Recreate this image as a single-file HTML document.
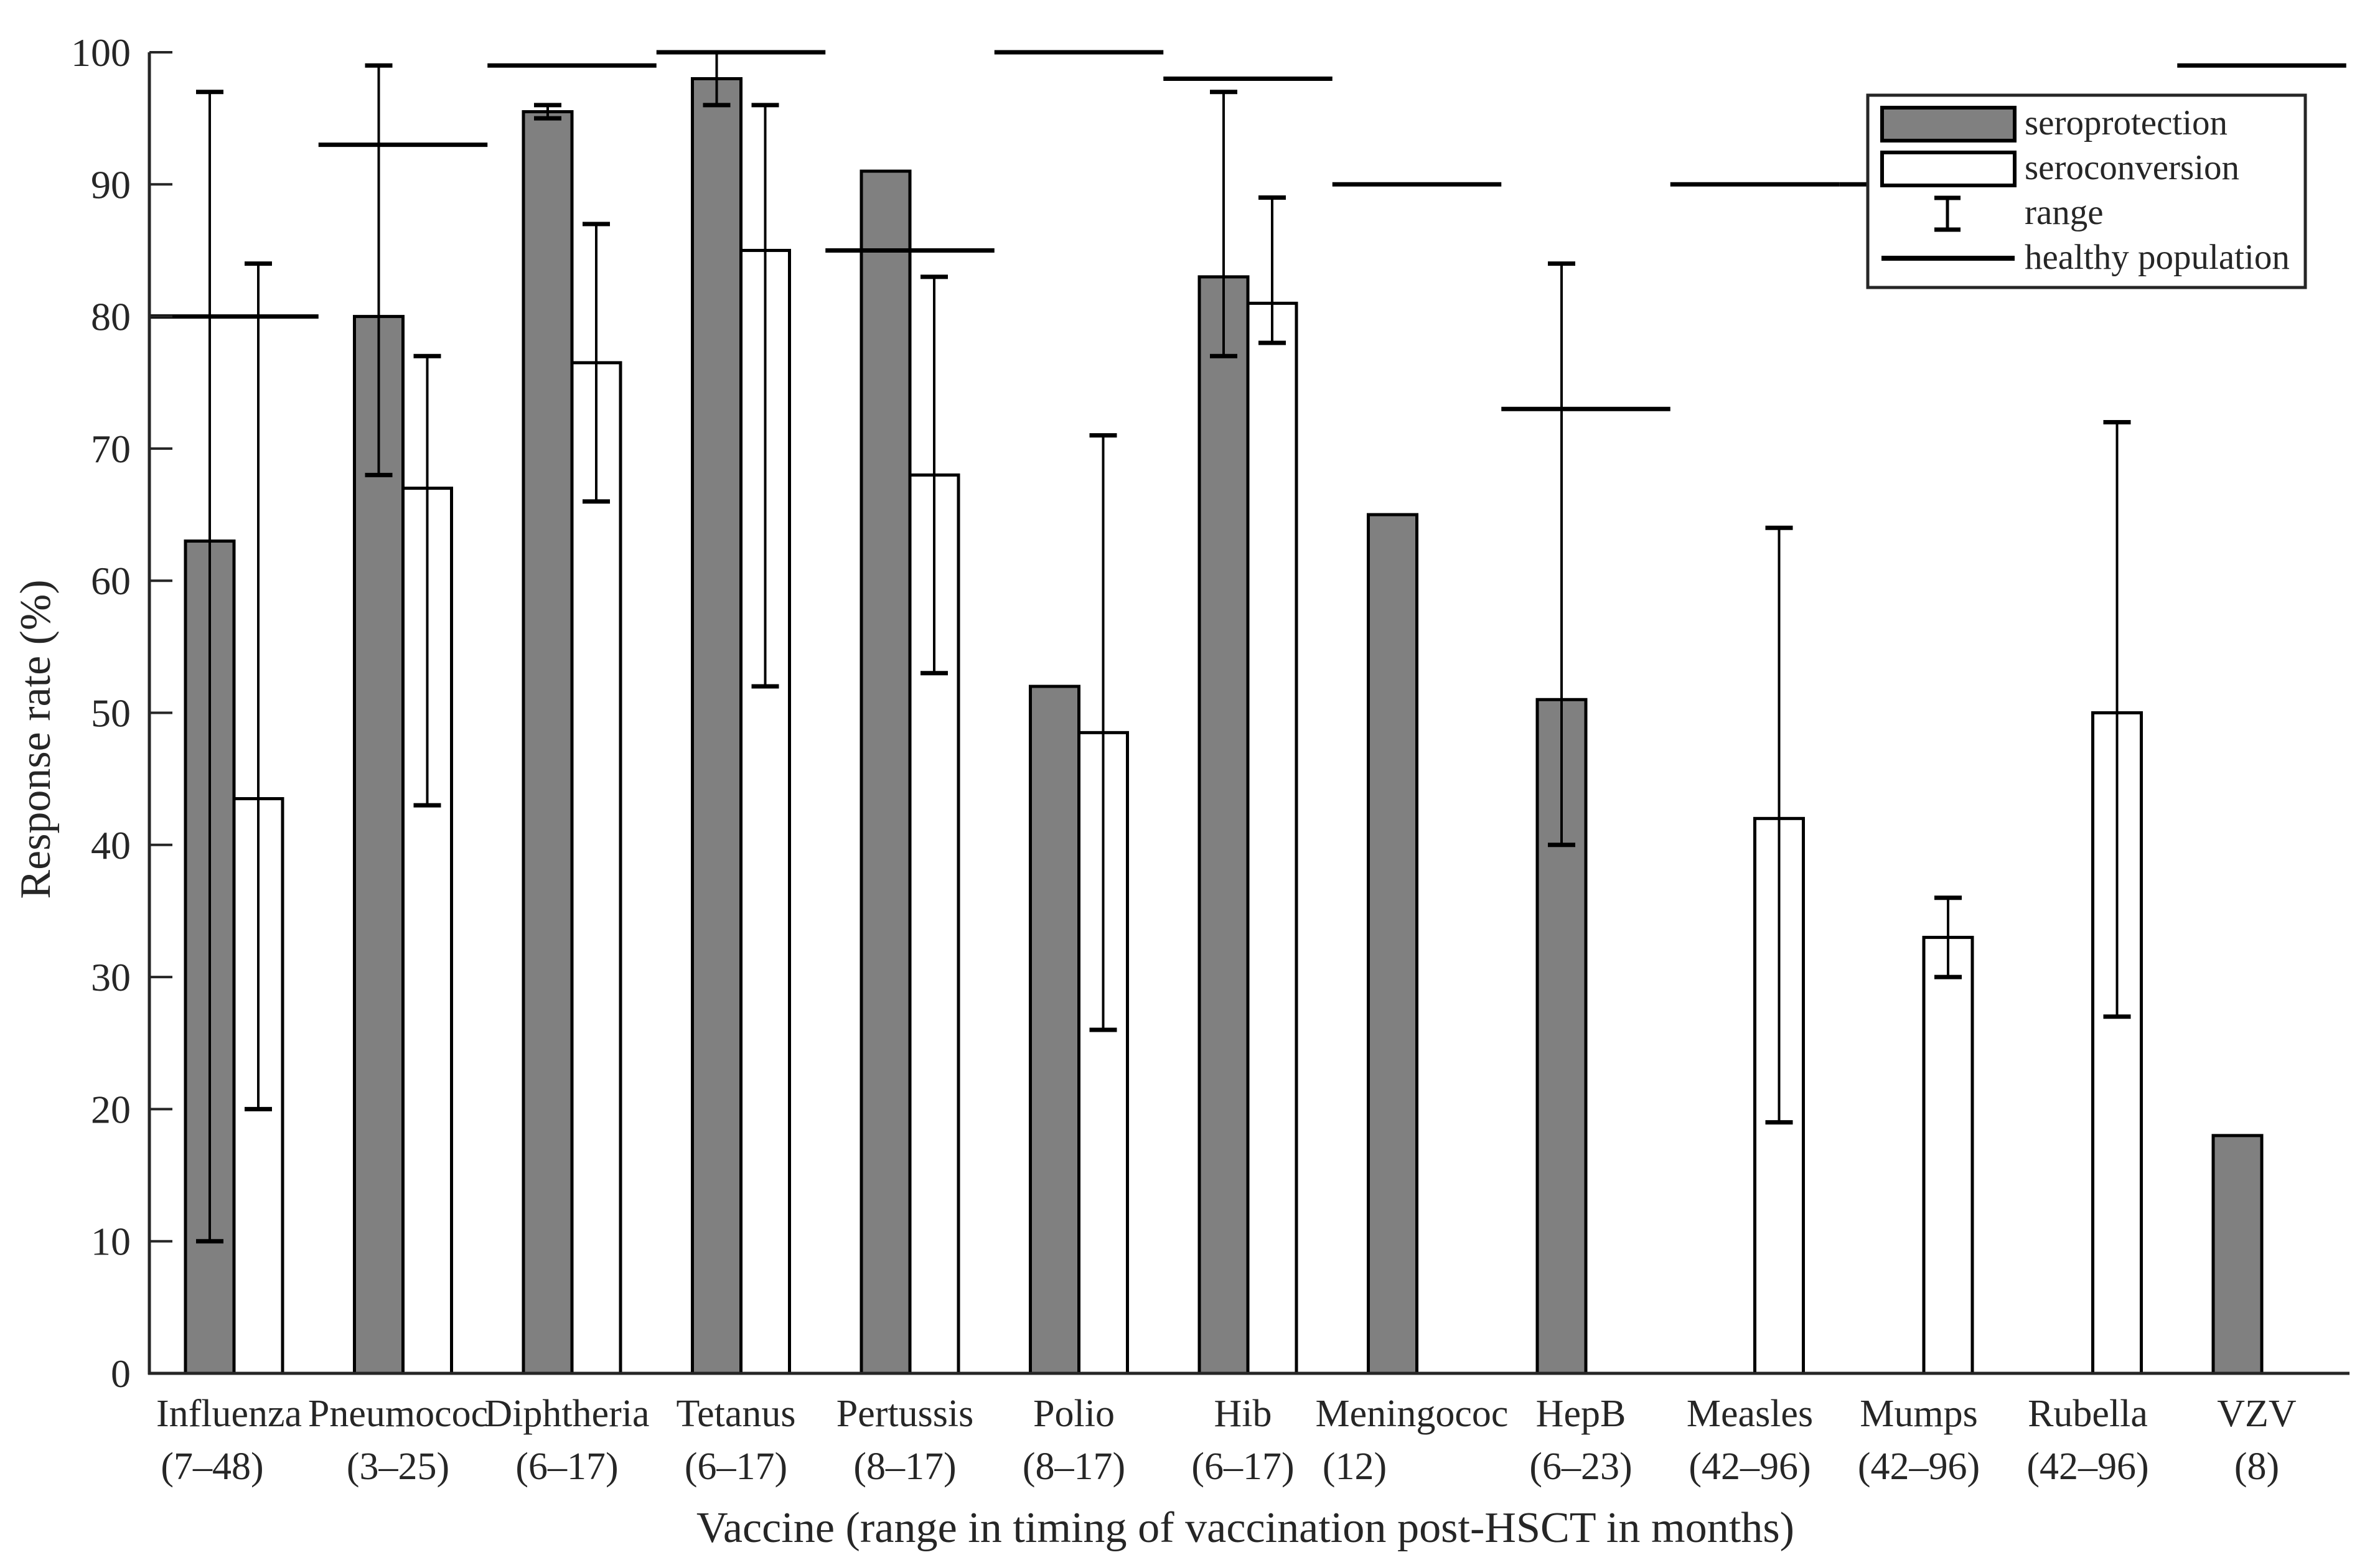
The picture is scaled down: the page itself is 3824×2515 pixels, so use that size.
<!DOCTYPE html>
<html><head><meta charset="utf-8"><style>
html,body{margin:0;padding:0;background:#fff}
svg{display:block}
text{font-family:"Liberation Serif",serif;fill:#262626}
</style></head><body>
<svg id="chart" width="3824" height="2515" viewBox="0 0 3824 2515" xmlns="http://www.w3.org/2000/svg">
<rect width="3824" height="2515" fill="#fff"/>
<g id="plot"></g>
<g id="axes"></g>
<g id="legend"></g>
</svg>
<script>
const categories = ["Influenza","Pneumococ","Diphtheria","Tetanus","Pertussis","Polio","Hib","Meningococ","HepB","Measles","Mumps","Rubella","VZV"];
const timing = ["(7–48)","(3–25)","(6–17)","(6–17)","(8–17)","(8–17)","(6–17)","(12)","(6–23)","(42–96)","(42–96)","(42–96)","(8)"];
const seroprotection = [63,80,95.5,98,91,52,83,65,51,0,0,0,18];
const seroconversion = [43.5,67,76.5,85,68,48.5,81,0,0,42,33,50,0];
const spLow  = [10,68,95,96,null,null,77,null,40,null,null,null,null];
const spHigh = [97,99,96,100,null,null,97,null,84,null,null,null,null];
const scLow  = [20,43,66,52,53,26,78,null,null,19,30,27,null];
const scHigh = [84,77,87,96,83,71,89,null,null,64,36,72,null];
const healthy = [80,93,99,100,85,100,98,90,73,90,90,90,99];
const yTicks = [0,10,20,30,40,50,60,70,80,90,100];

const NS="http://www.w3.org/2000/svg";
const X0=240, X1=3775, Y0=2207, Y100=84;
const C0=376, CW=271.5, BW=78;
function xc(i){return C0+i*CW;}
function y(v){return Y0-(v/100)*(Y0-Y100);}
function mk(tag,attrs,parent){const e=document.createElementNS(NS,tag);for(const k in attrs)e.setAttribute(k,attrs[k]);parent.appendChild(e);return e;}
const plot=document.getElementById('plot'), axes=document.getElementById('axes'), leg=document.getElementById('legend');

categories.forEach((c,i)=>{
  const g=mk('g',{},plot);
  
  
  const sp=seroprotection[i];
  const b1=mk('rect',{x:xc(i)-BW,y:y(sp),width:BW,height:Y0-y(sp),fill:'#808080',stroke:'#000','stroke-width':5},g);
  
  
  const sc=seroconversion[i];
  const b2=mk('rect',{x:xc(i),y:y(sc),width:BW,height:Y0-y(sc),fill:'#fff',stroke:'#000','stroke-width':5},g);
  
  
});
function err(cx,lo,hi,name){
  const g=mk('g',{stroke:'#000'},plot);
  
  
  mk('line',{x1:cx,x2:cx,y1:y(lo),y2:y(hi),'stroke-width':4},g);
  mk('line',{x1:cx-22,x2:cx+22,y1:y(lo),y2:y(lo),'stroke-width':7},g);
  mk('line',{x1:cx-22,x2:cx+22,y1:y(hi),y2:y(hi),'stroke-width':7},g);
}
categories.forEach((c,i)=>{
  if(spLow[i]!==null) err(xc(i)-BW/2,spLow[i],spHigh[i],'range-seroprotection-'+c.toLowerCase());
  if(scLow[i]!==null) err(xc(i)+BW/2,scLow[i],scHigh[i],'range-seroconversion-'+c.toLowerCase());
});
categories.forEach((c,i)=>{
  const l=mk('line',{x1:xc(i)-CW/2,x2:xc(i)+CW/2,y1:y(healthy[i]),y2:y(healthy[i]),stroke:'#000','stroke-width':7},plot);
  
  
});
const ya=mk('line',{x1:X0,x2:X0,y1:Y100,y2:Y0+2,stroke:'#262626','stroke-width':5},axes);


const xa=mk('line',{x1:X0-2,x2:X1,y1:Y0,y2:Y0,stroke:'#262626','stroke-width':5},axes);


yTicks.forEach(v=>{
  const t=mk('line',{x1:X0,x2:X0+37,y1:y(v),y2:y(v),stroke:'#262626','stroke-width':4},axes);
  
  
  const tx=mk('text',{x:210,y:y(v)+22,'text-anchor':'end','font-size':64},axes);
  tx.textContent=v;
  
  
});
categories.forEach((c,i)=>{
  const t1=mk('text',{x:xc(i)-8,y:2292,'text-anchor':'middle','font-size':62},axes);
  t1.textContent=c;
  
  
  const dx = c==="Meningococ" ? -100 : (c==="Influenza"? -35 : -8);
  const t2=mk('text',{x:xc(i)+dx,y:2377,'text-anchor':'middle','font-size':62},axes);
  t2.textContent=timing[i];
  
  
});
const xt=mk('text',{x:2001,y:2478,'text-anchor':'middle','font-size':70,textLength:1764,lengthAdjust:'spacingAndGlyphs'},axes);
xt.textContent="Vaccine (range in timing of vaccination post-HSCT in months)";


const yt=mk('text',{x:0,y:0,'text-anchor':'middle','font-size':70,transform:'translate(80,1188) rotate(-90)'},axes);
yt.textContent="Response rate (%)";


const lb=mk('rect',{x:3001,y:153,width:703,height:309,fill:'#fff',stroke:'#262626','stroke-width':5},leg);


const s1=mk('rect',{x:3024,y:173,width:213,height:53,fill:'#808080',stroke:'#000','stroke-width':6},leg);


const s2=mk('rect',{x:3024,y:245,width:213,height:53,fill:'#fff',stroke:'#000','stroke-width':6},leg);


const rg=mk('g',{stroke:'#000'},leg);


mk('line',{x1:3129,x2:3129,y1:318,y2:369,'stroke-width':5},rg);
mk('line',{x1:3108,x2:3150,y1:318,y2:318,'stroke-width':7},rg);
mk('line',{x1:3108,x2:3150,y1:369,y2:369,'stroke-width':7},rg);
const hl=mk('line',{x1:3023,x2:3237,y1:415,y2:415,stroke:'#000','stroke-width':8},leg);


[["seroprotection",216],["seroconversion",288],["range",360],["healthy population",432]].forEach(([t,yy])=>{
  const e=mk('text',{x:3253,y:yy,'font-size':57},leg);
  e.textContent=t;
  
  
});
</script>
</body></html>
